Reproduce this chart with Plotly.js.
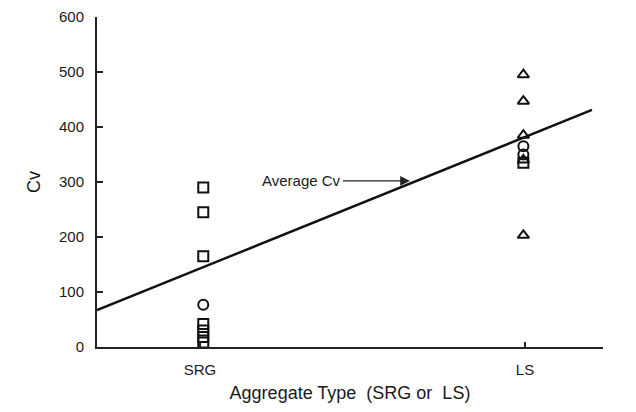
<!DOCTYPE html>
<html><head><meta charset="utf-8">
<script src="https://cdn.plot.ly/plotly-3.0.1.min.js"></script>
<style>html,body{margin:0;padding:0;background:#fff}#chart{width:636px;height:412px}</style>
</head><body><div id="chart"></div>
<script>
const categories = ["SRG", "LS"];
const categoryPos = [0, 1];
const yTicks = [0, 100, 200, 300, 400, 500, 600];

const srgSquares = [290, 245, 165, 42, 30, 18, 8];
const srgCircles = [77];
const lsTriangles = [495, 447, 385, 340, 203];
const lsCircles = [365, 350];
const lsSquares = [335];

const avgLineX = [-0.317, 1.206];
const avgLineY = [67, 431];

function rep(v, n) { return Array(n).fill(v); }

const mk = (sym) => ({symbol: sym, size: 10, color: '#111', line: {color: '#111', width: 2}});

const traces = [
  {x: avgLineX, y: avgLineY, mode: 'lines', line: {color: '#111', width: 2.4}, cliponaxis: false},
  {x: rep(categoryPos[0] + 0.01, srgSquares.length), y: srgSquares, mode: 'markers', marker: mk('square-open'), cliponaxis: false},
  {x: rep(categoryPos[0] + 0.01, srgCircles.length), y: srgCircles, mode: 'markers', marker: mk('circle-open'), cliponaxis: false},
  {x: rep(categoryPos[1] - 0.005, lsTriangles.length), y: lsTriangles, mode: 'markers', marker: mk('triangle-up-open'), cliponaxis: false},
  {x: rep(categoryPos[1] - 0.005, lsCircles.length), y: lsCircles, mode: 'markers', marker: mk('circle-open'), cliponaxis: false},
  {x: rep(categoryPos[1] - 0.005, lsSquares.length), y: lsSquares, mode: 'markers', marker: mk('square-open'), cliponaxis: false}
];

const font = {family: 'Liberation Sans, Arial, sans-serif', color: '#1a1a1a'};

const layout = {
  width: 636, height: 412,
  margin: {l: 97, r: 33, t: 17, b: 65},
  paper_bgcolor: '#fff', plot_bgcolor: '#fff',
  showlegend: false,
  font: font,
  xaxis: {
    range: [-0.317, 1.24],
    tickvals: categoryPos, ticktext: categories,
    ticks: 'inside', ticklen: 5, tickwidth: 1.5, tickcolor: '#222',
    showline: true, linecolor: '#222', linewidth: 2,
    showgrid: false, zeroline: false,
    tickfont: {size: 15, family: font.family, color: '#1a1a1a'},
    ticklabelstandoff: 8,
    title: {text: 'Aggregate Type  (SRG or  LS)', font: {size: 18, family: font.family, color: '#1a1a1a'}, standoff: 9}
  },
  yaxis: {
    range: [0, 600],
    tickvals: yTicks,
    ticks: 'inside', ticklen: 6, tickwidth: 1.5, tickcolor: '#222',
    showline: true, linecolor: '#222', linewidth: 2,
    showgrid: false, zeroline: false,
    tickfont: {size: 15, family: font.family, color: '#1a1a1a'},
    ticklabelstandoff: 8,
    title: {text: 'Cv', font: {size: 18, family: font.family, color: '#1a1a1a'}, standoff: 14}
  },
  annotations: [{
    x: 0.646, y: 302, xref: 'x', yref: 'y',
    text: 'Average Cv', showarrow: true,
    ax: -108, ay: 0,
    arrowhead: 2, arrowsize: 1.4, arrowwidth: 1.4, arrowcolor: '#222',
    font: {size: 15, family: font.family, color: '#1a1a1a'}
  }]
};

Plotly.newPlot('chart', traces, layout, {staticPlot: true, displayModeBar: false});
</script></body></html>
